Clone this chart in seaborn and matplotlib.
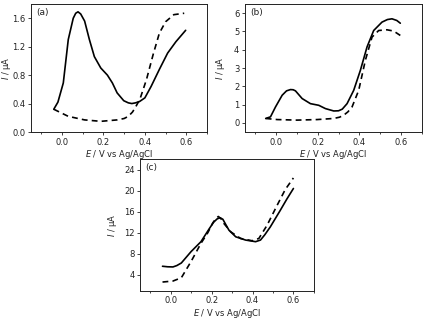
import numpy as np
import pandas as pd
import matplotlib
matplotlib.use('Agg')
import matplotlib.pyplot as plt
import seaborn as sns
from matplotlib.ticker import MultipleLocator, FormatStrFormatter

# panel (a)
a_solid_x = [-0.04, -0.02, 0.006, 0.03, 0.054, 0.066, 0.077, 0.09, 0.109, 0.132, 0.156, 0.187, 0.219, 0.243,
             0.266, 0.298, 0.32, 0.337, 0.355, 0.375, 0.40, 0.43, 0.47, 0.51, 0.55, 0.597]
a_solid_y = [0.32, 0.42, 0.69, 1.30, 1.60, 1.67, 1.69, 1.66, 1.56, 1.30, 1.06, 0.90, 0.80, 0.69,
             0.55, 0.44, 0.41, 0.40, 0.41, 0.43, 0.48, 0.64, 0.88, 1.11, 1.27, 1.43]
a_dash_x = [-0.04, 0.03, 0.109, 0.187, 0.266, 0.30, 0.32, 0.34, 0.353, 0.376, 0.408, 0.44, 0.47, 0.50,
            0.54, 0.59]
a_dash_y = [0.32, 0.22, 0.17, 0.15, 0.17, 0.19, 0.22, 0.28, 0.34, 0.46, 0.74, 1.09, 1.39, 1.55,
            1.65, 1.67]

# panel (b)
b_solid_x = [-0.05, -0.027, -0.003, 0.029, 0.05, 0.069, 0.082, 0.093, 0.125, 0.165, 0.205, 0.237, 0.277,
             0.30, 0.318, 0.341, 0.373, 0.405, 0.437, 0.469, 0.509, 0.535, 0.557, 0.58, 0.597]
b_solid_y = [0.24, 0.33, 0.87, 1.51, 1.75, 1.82, 1.81, 1.75, 1.33, 1.05, 0.96, 0.78, 0.65,
             0.66, 0.75, 1.05, 1.78, 2.87, 4.15, 5.05, 5.51, 5.65, 5.69, 5.60, 5.45]
b_dash_x = [-0.05, 0.005, 0.10, 0.197, 0.277, 0.305, 0.325, 0.345, 0.365, 0.397, 0.429, 0.461, 0.493,
            0.533, 0.565, 0.597]
b_dash_y = [0.24, 0.18, 0.15, 0.18, 0.24, 0.31, 0.42, 0.60, 0.87, 1.78, 3.42, 4.69, 5.05,
            5.09, 5.02, 4.78]

# panel (c)
c_solid_x = [-0.04, -0.015, 0.011, 0.03, 0.052, 0.10, 0.148, 0.189, 0.21, 0.228, 0.242, 0.255, 0.27,
             0.285, 0.318, 0.366, 0.415, 0.439, 0.46, 0.487, 0.535, 0.568, 0.60]
c_solid_y = [5.62, 5.52, 5.49, 5.75, 6.24, 8.42, 10.29, 12.78, 14.0, 14.65, 14.83, 14.55, 13.5,
             12.47, 11.22, 10.60, 10.29, 10.60, 11.6, 13.1, 16.2, 18.4, 20.4]
c_dash_x = [-0.04, 0.011, 0.052, 0.10, 0.148, 0.181, 0.205, 0.221, 0.233, 0.245, 0.261, 0.294, 0.342,
            0.398, 0.431, 0.471, 0.519, 0.56, 0.60]
c_dash_y = [2.62, 2.81, 3.43, 6.55, 9.98, 11.97, 13.8, 14.7, 15.08, 14.7, 13.71, 12.15, 10.9,
            10.47, 10.9, 13.4, 17.1, 20.2, 22.4]

panels = [
    ('(a)', a_solid_x, a_solid_y, a_dash_x, a_dash_y, (0, 1.8), 0.4, [0.0733, 0.5875, 0.416, 0.40], -0.10),
    ('(b)', b_solid_x, b_solid_y, b_dash_x, b_dash_y, (-0.5, 6.5), 1, [0.579, 0.5875, 0.418, 0.40], -0.10),
    ('(c)', c_solid_x, c_solid_y, c_dash_x, c_dash_y, (1, 26), 4, [0.331, 0.092, 0.411, 0.411], -0.12),
]

sns.set_style('ticks')
plt.rcParams['font.family'] = ['DejaVu Sans']
plt.rcParams['mathtext.default'] = 'regular'

fig = plt.figure(figsize=(4.23, 3.2), dpi=100)
fig.patch.set_facecolor('white')

for label, sx, sy, dx, dy, ylim, ystep, pos, ylab_x in panels:
    ax = fig.add_axes(pos)
    sns.lineplot(x=sx, y=sy, ax=ax, color='black', linewidth=1.2, sort=False)
    sns.lineplot(x=dx, y=dy, ax=ax, color='black', linewidth=1.2, sort=False)
    ax.lines[0].set_solid_joinstyle('round')
    ax.lines[1].set_dashes([3.5, 2.5])
    ax.set_xlim(-0.15, 0.7)
    ax.set_ylim(*ylim)
    ax.xaxis.set_major_locator(MultipleLocator(0.2))
    ax.xaxis.set_minor_locator(MultipleLocator(0.1))
    ax.yaxis.set_major_locator(MultipleLocator(ystep))
    ax.xaxis.set_major_formatter(FormatStrFormatter('%.1f'))
    ax.yaxis.set_major_formatter(FormatStrFormatter('%.1f' if ystep < 1 else '%d'))
    ax.tick_params(which='major', direction='out', length=2.5, width=0.6, labelsize=6, colors='#222222', pad=1.5)
    ax.tick_params(which='minor', direction='out', length=1.5, width=0.6)
    for spine in ax.spines.values():
        spine.set_visible(True); spine.set_color('#222222'); spine.set_linewidth(0.7)
    ax.set_xlabel(r'$\it{E}$ / V vs Ag/AgCl', fontsize=6, color='#222222', labelpad=1)
    ax.set_ylabel(r'$\it{I}$ / $\mu$A', fontsize=6, color='#222222')
    ax.yaxis.set_label_coords(ylab_x, 0.5)
    ax.text(0.03, 0.97, label, transform=ax.transAxes, va='top', ha='left', fontsize=6.5, color='#222222')

fig.savefig('out.png', dpi=100, facecolor='white')
